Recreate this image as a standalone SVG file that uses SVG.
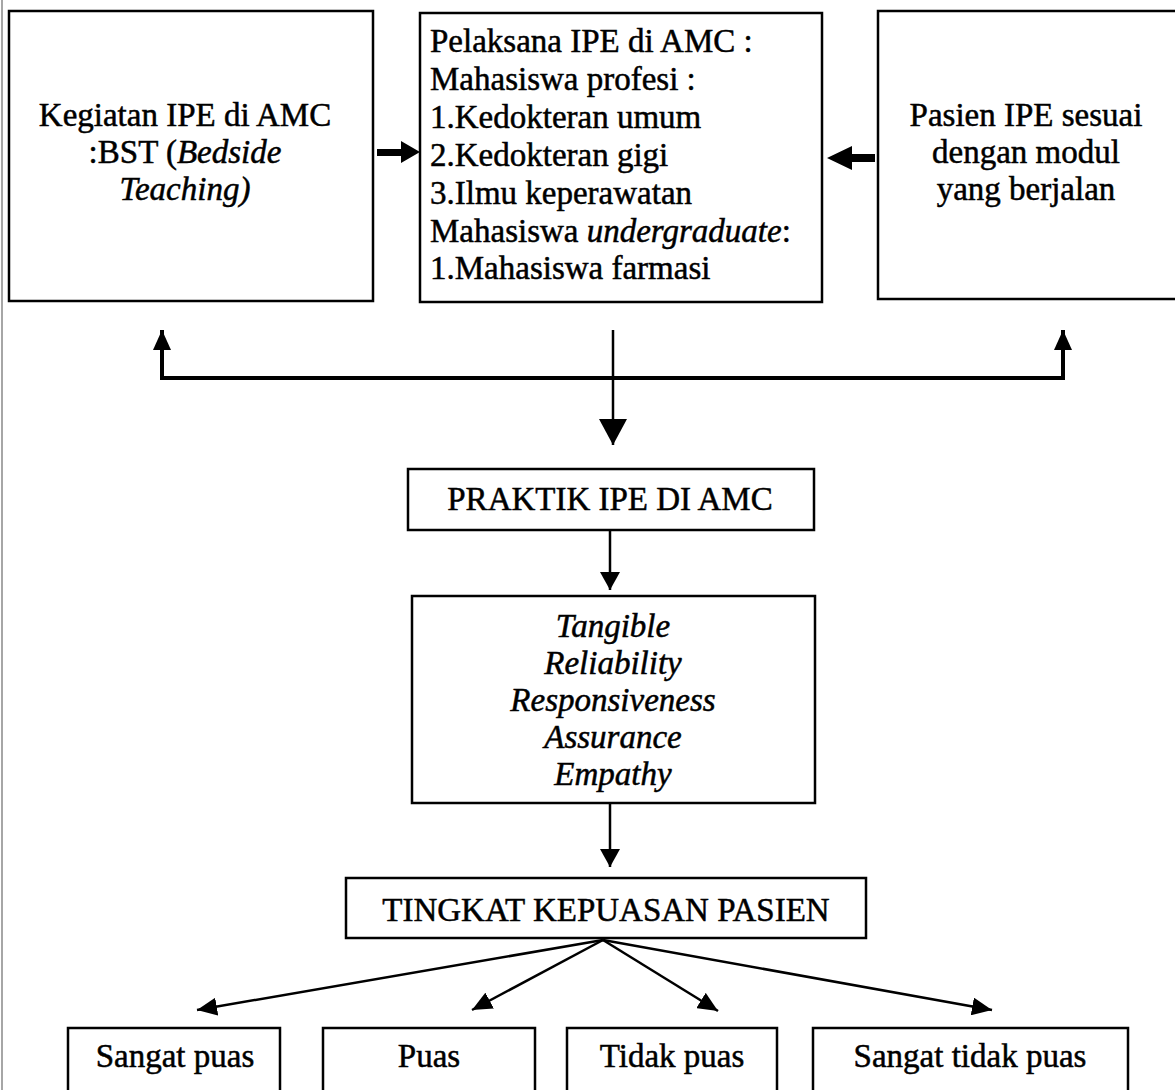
<svg xmlns="http://www.w3.org/2000/svg" width="1175" height="1090" viewBox="0 0 1175 1090">
<style>
.box{fill:#fff;stroke:#000;stroke-width:2.5}
.t{font-family:"Liberation Serif","Times New Roman",serif;font-size:33px;fill:#000;stroke:#000;stroke-width:0.5}
.c{text-anchor:middle}
.i{font-style:italic}
.ln{fill:none;stroke:#000;stroke-width:2.5}
.thk{fill:none;stroke:#000;stroke-width:4}
</style>
<defs>
<marker id="big" markerUnits="userSpaceOnUse" markerWidth="26" markerHeight="28" refX="26" refY="14" orient="auto"><path d="M0,0 L26,14 L0,28 z" fill="#000"/></marker>
<marker id="med" markerUnits="userSpaceOnUse" markerWidth="18" markerHeight="20" refX="18" refY="10" orient="auto"><path d="M0,0 L18,10 L0,20 z" fill="#000"/></marker>
<marker id="sm" markerUnits="userSpaceOnUse" markerWidth="20" markerHeight="18" refX="20" refY="9" orient="auto"><path d="M0,0 L20,9 L0,18 z" fill="#000"/></marker>
</defs>
<rect width="1175" height="1090" fill="#fff"/>
<line x1="2" y1="0" x2="2" y2="1090" stroke="#888" stroke-width="1.5"/>

<g id="kegiatan">
<rect class="box" x="9" y="11" width="364" height="290"/>
<text class="t c" x="185" y="126">Kegiatan IPE di AMC</text>
<text class="t c" x="185" y="163">:BST (<tspan class="i">Bedside</tspan></text>
<text class="t c i" x="185" y="200">Teaching)</text>
</g>

<g id="pelaksana">
<rect class="box" x="420" y="13" width="402" height="289"/>
<text class="t" x="430" y="52">Pelaksana IPE di AMC :</text>
<text class="t" x="430" y="90">Mahasiswa profesi :</text>
<text class="t" x="430" y="128">1.Kedokteran umum</text>
<text class="t" x="430" y="166">2.Kedokteran gigi</text>
<text class="t" x="430" y="204">3.Ilmu keperawatan</text>
<text class="t" x="430" y="242">Mahasiswa <tspan class="i">undergraduate</tspan>:</text>
<text class="t" x="430" y="279">1.Mahasiswa farmasi</text>
</g>

<g id="pasien">
<rect class="box" x="878" y="11" width="310" height="288"/>
<text class="t c" x="1026" y="126">Pasien IPE sesuai</text>
<text class="t c" x="1026" y="163">dengan modul</text>
<text class="t c" x="1026" y="200">yang berjalan</text>
</g>

<g id="praktik">
<rect class="box" x="408" y="469" width="406" height="61"/>
<text class="t c" x="610" y="510">PRAKTIK IPE DI AMC</text>
</g>

<g id="dimensi">
<rect class="box" x="412" y="596" width="403" height="207"/>
<text class="t c i" x="613" y="637">Tangible</text>
<text class="t c i" x="613" y="674">Reliability</text>
<text class="t c i" x="613" y="711">Responsiveness</text>
<text class="t c i" x="613" y="748">Assurance</text>
<text class="t c i" x="613" y="785">Empathy</text>
</g>

<g id="tingkat">
<rect class="box" x="346" y="878" width="520" height="60"/>
<text class="t c" x="606" y="921">TINGKAT KEPUASAN PASIEN</text>
</g>

<g id="sangat-puas">
<rect class="box" x="68" y="1028" width="212" height="80"/>
<text class="t c" x="175" y="1067">Sangat puas</text>
</g>
<g id="puas">
<rect class="box" x="323" y="1028" width="212" height="80"/>
<text class="t c" x="429" y="1067">Puas</text>
</g>
<g id="tidak-puas">
<rect class="box" x="567" y="1028" width="210" height="80"/>
<text class="t c" x="672" y="1067">Tidak puas</text>
</g>
<g id="sangat-tidak-puas">
<rect class="box" x="813" y="1028" width="315" height="80"/>
<text class="t c" x="970" y="1067">Sangat tidak puas</text>
</g>

<g id="connectors">
<polygon points="377,149 401,149 401,141 420,152 401,163 401,156 377,156" fill="#000"/>
<polygon points="875,154 852,154 852,146 827,158 852,170 852,162 875,162" fill="#000"/>
<line class="ln" x1="613" y1="330" x2="613" y2="445" marker-end="url(#big)"/>
<polyline class="thk" points="162,330 162,378 1063,378 1063,330"/>
<line class="ln" x1="162" y1="360" x2="162" y2="330" marker-end="url(#sm)"/>
<line class="ln" x1="1063" y1="360" x2="1063" y2="330" marker-end="url(#sm)"/>
<line class="ln" x1="610" y1="530" x2="610" y2="590" marker-end="url(#med)"/>
<line class="ln" x1="610" y1="803" x2="610" y2="867" marker-end="url(#med)"/>
<line class="ln" stroke-width="3.5" x1="603" y1="940" x2="197" y2="1010" marker-end="url(#sm)"/>
<line class="ln" stroke-width="3.5" x1="603" y1="940" x2="472" y2="1010" marker-end="url(#sm)"/>
<line class="ln" stroke-width="3.5" x1="603" y1="940" x2="718" y2="1011" marker-end="url(#sm)"/>
<line class="ln" stroke-width="3.5" x1="603" y1="940" x2="992" y2="1010" marker-end="url(#sm)"/>
</g>
</svg>
